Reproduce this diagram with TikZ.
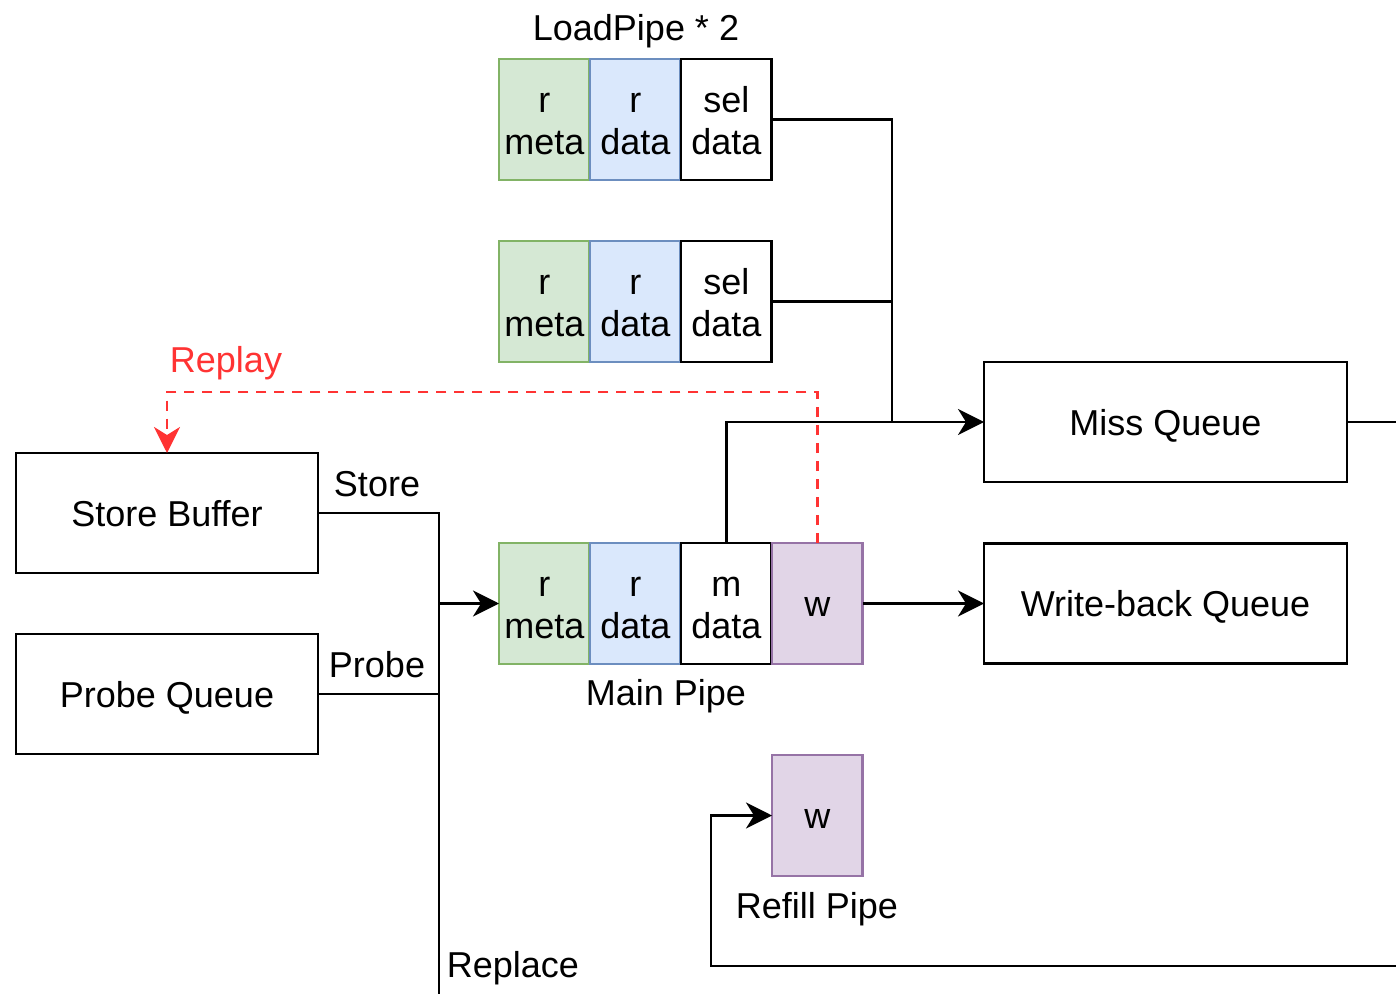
\documentclass[tikz,border=0pt]{standalone}
\usepackage{fontspec}
\setmainfont{Liberation Sans}
\usetikzlibrary{arrows.meta,positioning}
\definecolor{cmetaf}{HTML}{D5E8D4}
\definecolor{cmetad}{HTML}{82B366}
\definecolor{cdataf}{HTML}{DAE8FC}
\definecolor{cdatad}{HTML}{6C8EBF}
\definecolor{cwf}{HTML}{E1D5E7}
\definecolor{cwd}{HTML}{9673A6}
\definecolor{creplay}{HTML}{FF3333}
\tikzset{dcache/.style={x=0.5pt,y=-0.5pt,font=\fontsize{18}{21}\selectfont,line width=1.4pt,
    >={Stealth[length=13pt,width=13pt,inset=4pt]}},
  cell/.style={draw,minimum width=45.4pt,minimum height=60.5pt,inner sep=0pt,outer sep=0pt,align=center,
    anchor=north west,text height=35pt,text depth=0pt},
  metacell/.style={cell,fill=cmetaf,draw=cmetad},
  datacell/.style={cell,fill=cdataf,draw=cdatad},
  wcell/.style={cell,fill=cwf,draw=cwd,text height=12.5pt},
  queue/.style={draw,minimum width=181.5pt,minimum height=60pt,inner sep=0pt,outer sep=0pt,
    text height=13pt,text depth=0pt},
  buffer/.style={queue,minimum width=151pt}}

\begin{document}
\begin{tikzpicture}[dcache]
    \useasboundingbox (0,0) rectangle (1396,994);
    % load pipes
    \node (lptitle) at (636,31) {LoadPipe * 2};
    \node[metacell] (l1meta) at (499,59) {r\\meta};
    \node[datacell] (l1data) at (590,59) {r\\data};
    \node[cell] (l1sel) at (681,59) {sel\\data};
    \node[metacell] (l2meta) at (499,241) {r\\meta};
    \node[datacell] (l2data) at (590,241) {r\\data};
    \node[cell] (l2sel) at (681,241) {sel\\data};
    % main pipe
    \node[metacell] (mmeta) at (499,543) {r\\meta};
    \node[datacell] (mdata) at (590,543) {r\\data};
    \node[cell] (mmdata) at (681,543) {m\\data};
    \node[wcell] (mw) at (772,543) {w};
    \node (mptitle) at (666,696) {Main Pipe};
    % refill pipe
    \node[wcell] (rw) at (772,755) {w};
    \node (rptitle) at (817,909) {Refill Pipe};
    % queues
    \node[queue] (mq) at (1165.5,422) {Miss Queue};
    \node[queue] (wbq) at (1165.5,603.5) {Write-back Queue};
    \node[buffer] (sb) at (167,513) {Store Buffer};
    \node[buffer] (pq) at (167,694) {Probe Queue};
    \coordinate (join) at (892,422);
    \coordinate (bus) at (439,994);
    \coordinate (mqout) at (1396,422);
    \coordinate (rfin) at (1396,966);
    \coordinate (rfcorner) at (711,966);
    % connections
    \draw (l1sel.east) -| (join);
    \draw (l2sel.east) -| (join);
    \draw[->] (mmdata.north) |- (mq.west);
    \draw (mq.east) -- (mqout);
    \draw[->] (mw.east) -- (wbq.west);
    \draw (sb.east) -| (bus);
    \draw (pq.east) -- (pq.east -| bus);
    \draw[->] (mmeta.west -| bus) -- (mmeta.west);
    \draw[->] (rfin) -- (rfcorner) |- (rw.west);
    \node (store) at (377,484) {Store};
    \node (probe) at (377,665) {Probe};
    \node (replace) at (513,968) {Replace};
    % replay
    \draw[creplay,dash pattern=on 5pt off 4pt,->] (mw.north) -- ++(0,-151) -| (sb.north);
    \node[creplay] (replay) at (226,363) {Replay};
\end{tikzpicture}
\end{document}
